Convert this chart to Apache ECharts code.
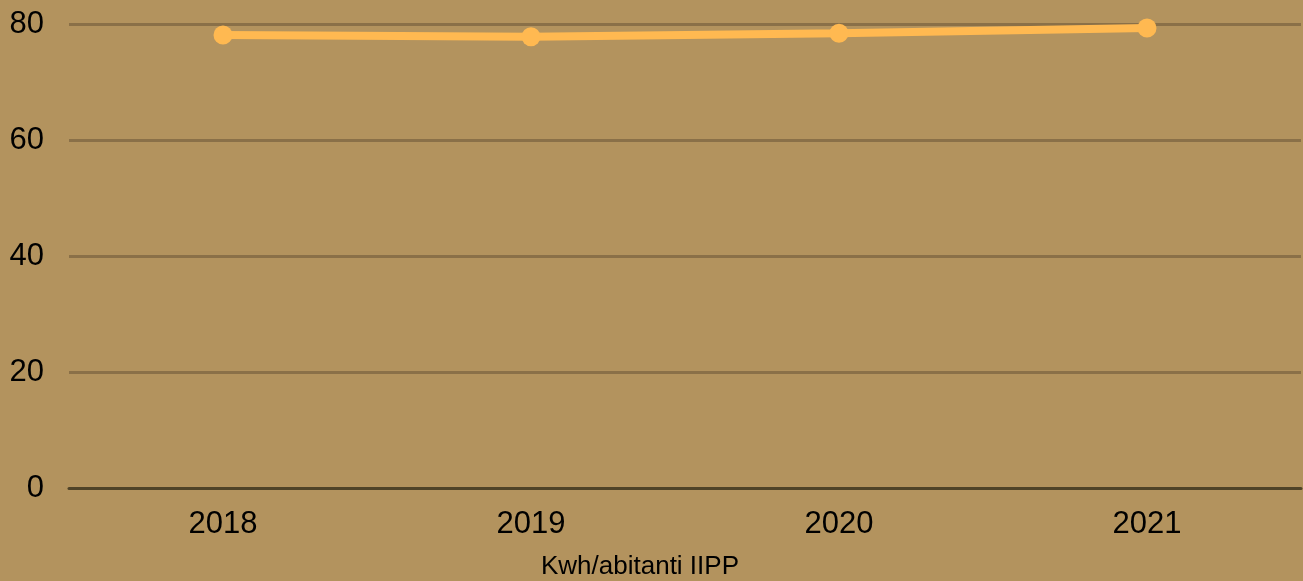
<!DOCTYPE html>
<html lang="it">
<head>
  <meta charset="UTF-8">
  <title>Kwh/abitanti IIPP</title>
  <script src="https://cdn.jsdelivr.net/npm/echarts@6/dist/echarts.min.js"></script>
  <style>
    html, body { margin: 0; padding: 0; background: #b3935e; overflow: hidden; }
    #chart { width: 1303px; height: 581px; }
  </style>
</head>
<body>
  <div id="chart"></div>
  <script>
    // dati
    const years = ['2018', '2019', '2020', '2021'];
    const kwhPerAbitante = [78.1, 77.8, 78.4, 79.3];
    const seriesName = 'Kwh/abitanti IIPP';

    const chart = echarts.init(document.getElementById('chart'), null, { width: 1303, height: 581 });

    chart.setOption({
      backgroundColor: '#b3935e',
      animation: false,
      grid: { left: 69, right: 2, top: 24, bottom: 93, containLabel: false, outerBoundsMode: 'none' },
      xAxis: {
        type: 'category',
        data: years,
        boundaryGap: true,
        name: seriesName,
        nameLocation: 'middle',
        nameGap: 66,
        // il titolo dell'asse è spostato a sinistra rispetto al centro del grafico
        nameTextStyle: { fontFamily: 'Liberation Sans', fontSize: 26, color: '#000', padding: [0, 90, 0, 0] },
        axisLine: { lineStyle: { color: '#4f4328', width: 3 } },
        axisTick: { show: false },
        axisLabel: { fontFamily: 'Liberation Sans', fontSize: 31, color: '#000', margin: 21 }
      },
      yAxis: {
        type: 'value',
        min: 0,
        max: 80,
        interval: 20,
        axisLine: { show: false },
        axisTick: { show: false },
        axisLabel: { fontFamily: 'Liberation Sans', fontSize: 31, color: '#000', margin: 25, padding: [3, 0, 0, 0] },
        splitLine: { lineStyle: { color: '#8a7048', width: 3 } }
      },
      series: [{
        name: seriesName,
        type: 'line',
        data: kwhPerAbitante,
        symbol: 'circle',
        symbolSize: 19,
        lineStyle: { color: '#ffb951', width: 8 },
        itemStyle: { color: '#ffb951' }
      }]
    });
  </script>
</body>
</html>
